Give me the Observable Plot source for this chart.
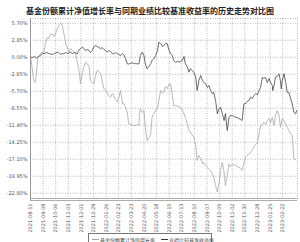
<!DOCTYPE html>
<html><head><meta charset="utf-8">
<script src="https://cdn.jsdelivr.net/npm/d3@7"></script>
<script src="https://cdn.jsdelivr.net/npm/@observablehq/plot@0.6"></script>
<style>
body{margin:0;background:#fff;}
#wrap{position:relative;width:300px;height:242px;overflow:hidden;font-family:"Noto Sans CJK SC","DejaVu Sans",sans-serif;background:#fff;}
#chart{position:absolute;left:0;top:0;}
#title{position:absolute;left:0;top:5px;width:300px;text-align:center;font-size:8px;font-weight:bold;color:#222;line-height:11px;white-space:nowrap;}
#legend{position:absolute;left:88px;top:233px;width:124px;height:14px;border:1px solid #777;box-sizing:border-box;font-size:5px;color:#444;display:flex;align-items:flex-start;padding-top:2px;padding-left:3px;white-space:nowrap;}
#legend .it{display:flex;align-items:center;margin-right:6px;}
#legend .sw{display:inline-block;width:7px;height:0;border-top:1px solid;margin-right:1px;}
</style></head>
<body>
<div id="wrap">
  <div id="chart"></div>
  <div id="title">基金份额累计净值增长率与同期业绩比较基准收益率的历史走势对比图</div>
  <div id="legend"></div>
</div>
<script>
const seriesNames = ["基金份额累计净值增长率", "业绩比较基准收益率"];
const tickLabels = ["2021-08-11","2021-09-08","2021-10-06","2021-11-03","2021-12-01","2021-12-29","2022-01-26","2022-02-23","2022-03-23","2022-04-20","2022-05-18","2022-06-15","2022-07-13","2022-08-10","2022-09-07","2022-10-05","2022-11-02","2022-11-30","2022-12-28","2023-01-25","2023-02-22"];
const yTicks = [5.70, 2.85, 0.00, -2.85, -5.70, -8.55, -11.40, -14.25, -17.10, -19.95, -22.80];

// days since first date
const fundDays = [0,3,7,10,13,16,20,24,30,33,37,40,44,49,53,58,62,67,70,73,78,81,85,89,93,100,104,108,111,115,119,122,126,130,133,137,141,144,148,152,156,159,163,167,170,174,178,182,185,189,193,196,200,202,204,207,211,215,218,222,226,230,233,237,241,242,244,248,252,255,259,263,267,270,274,278,282,285,289,293,296,300,304,307,311,315,318,322,328,333,339,344,348,352,357,363,367,370,374,378,382,385,389,393,396,400,404,407,411,415,419,422,426,430,433,437,441,444,448,452,455,459,463,467,470,474,478,481,485,489,493,496,500,504,507,511,515,518,522,526,530,533,537,541,544,548,552,555,559,563,567,570,574,578,581,583,585,589];
const fundValues = [0,-1.39,-3.91,-4.24,-3.07,-0.05,0.29,0.79,0.84,2.13,3.30,3.14,3.81,3.89,3.47,4.48,5.15,5.70,5.48,4.48,2.25,1.79,0.84,1.46,1.12,0.62,-0.84,-2.23,-4.46,-2.78,-1.56,-0.84,-1.06,-1.68,-3.91,-4.24,-4.46,-3.24,-2.23,-2.40,-2.78,-3.91,-5.30,-5.58,-5.87,-6.42,-6.71,-6.09,-6.42,-7.09,-7.54,-6.76,-5.58,-6.59,-7.81,-7.76,-8.38,-9.27,-11.17,-11.28,-11.37,-11.45,-11.45,-11.28,-11.45,-9.27,-8.65,-9.27,-8.94,-11.74,-13.97,-13.46,-12.84,-10.06,-9.44,-8.94,-8.65,-7.26,-5.58,-6.09,-5.87,-4.91,-5.30,-4.58,-4.46,-6.42,-8.10,-8.10,-8.27,-8.38,-9.10,-10.06,-11.12,-12.29,-12.79,-13.41,-14.80,-17.32,-16.48,-16.98,-17.87,-17.65,-18.16,-18.44,-18.66,-18.99,-19.50,-20.12,-21.51,-22.63,-21.01,-18.99,-17.60,-19.33,-21.51,-19.83,-17.87,-18.32,-17.99,-18.16,-17.99,-18.32,-18.44,-18.66,-18.99,-17.65,-16.76,-16.48,-16.19,-15.98,-15.47,-15.09,-14.64,-14.25,-13.13,-11.45,-11.28,-10.90,-11.28,-10.61,-10.33,-10.95,-10.11,-11.45,-9.77,-8.94,-9.77,-11.74,-10.28,-10.61,-11.28,-11.74,-12.29,-12.84,-13.13,-14.80,-17.03,-17.20];

const benchDays = [0,4,9,13,18,22,27,31,36,40,44,49,53,59,62,67,71,74,78,82,89,93,98,104,107,111,115,119,122,126,130,133,137,141,144,148,152,156,159,163,167,170,174,178,182,185,189,193,196,200,204,207,211,215,218,222,226,230,233,237,241,244,248,252,255,259,263,267,270,274,278,282,285,289,293,296,300,304,307,311,315,318,322,327,331,337,341,344,348,352,355,359,363,367,370,374,378,382,385,389,393,396,400,404,407,411,415,419,422,426,430,433,437,441,444,448,452,455,459,463,467,470,474,478,481,485,489,493,496,500,504,507,511,515,518,522,526,530,533,537,538,541,544,548,552,555,557,559,563,567,570,574,578,581,585,589,591];
const benchValues = [0,-0.05,0.12,-0.13,0.12,0.29,0.62,0.62,0.79,0.62,0.57,0.45,0.62,0.84,0.79,0.45,0.62,0.57,0.79,0.62,0.84,0.62,0.79,0.57,1.12,1.46,1.68,1.46,1.12,1.29,1.12,0.79,1.12,1.79,1.96,1.79,1.63,1.41,1.63,1.29,1.12,0.84,1.12,0.96,0.62,0.57,0.79,0.62,0.45,0.29,0.62,0.45,-0.22,-1.11,-1.14,-1.06,-0.89,-1.11,-1.06,-1.11,-1.11,0.29,0.84,0.29,-1.11,-1.94,-1.56,-1.11,-0.55,-0.22,0.29,1.12,2.51,2.30,1.79,1.96,2.30,2.25,1.29,0.57,0.29,-0.55,-0.84,-0.72,-0.80,-0.55,0.12,-1.11,-1.56,-2.51,-1.89,-2.23,-2.56,-3.35,-5.58,-3.91,-3.07,-3.91,-4.24,-4.46,-5.08,-4.74,-5.58,-6.14,-5.87,-7.26,-9.49,-8.60,-8.38,-9.44,-10.61,-9.44,-12.29,-10.11,-9.77,-9.77,-9.94,-10.06,-10.11,-10.28,-10.44,-10.61,-7.81,-7.76,-7.43,-7.26,-6.71,-6.92,-6.42,-6.14,-6.25,-5.75,-5.03,-3.35,-3.57,-3.40,-4.24,-3.57,-4.19,-4.74,-5.58,-4.74,-3.35,-3.24,-2.78,-3.91,-5.30,-3.91,-2.78,-4.24,-5.87,-5.92,-6.97,-7.76,-9.22,-9.49,-8.94];

const colors = ["#a3a3a3", "#3a3a3a"];

const parse = d3.utcParse("%Y-%m-%d");
const start = parse(tickLabels[0]);
const end = d3.utcDay.offset(start, 593);
const tickDates = tickLabels.map(parse);
const labelMap = new Map(tickDates.map((d, i) => [+d, tickLabels[i]]));
const yMin = -24.02, yMax = 6.49;

const fund = fundDays.map((d, i) => ({date: d3.utcDay.offset(start, d), v: fundValues[i]}));
const bench = benchDays.map((d, i) => ({date: d3.utcDay.offset(start, d), v: benchValues[i]}));

const dotted = {stroke: "#8a8a8a", strokeOpacity: 1, strokeWidth: 0.6, strokeDasharray: "1,1.5"};

const chart = Plot.plot({
  width: 300, height: 232,
  marginLeft: 30, marginRight: 3, marginTop: 18, marginBottom: 32,
  x: {type: "utc", domain: [start, end], label: null},
  y: {domain: [yMin, yMax], label: null},
  style: {fontSize: "5px", fontFamily: "'DejaVu Sans', sans-serif", color: "#555", background: "white"},
  marks: [
    Plot.gridY(yTicks, dotted),
    Plot.gridX(tickDates, dotted),
    Plot.ruleY([yMax], dotted),
    Plot.ruleX([end], dotted),
    Plot.axisY(yTicks, {tickFormat: d => d.toFixed(2) + "%", tickSize: 0, tickPadding: 3, fill: "#555", label: null}),
    Plot.axisX(tickDates, {tickFormat: d => labelMap.get(+d), tickRotate: -90, tickSize: 0, tickPadding: 3, fill: "#555", label: null}),
    Plot.line(fund, {x: "date", y: "v", stroke: colors[0], strokeWidth: 0.75}),
    Plot.line(bench, {x: "date", y: "v", stroke: colors[1], strokeWidth: 0.75}),
    Plot.ruleX([start], {stroke: "#888", strokeWidth: 0.8}),
    Plot.ruleY([yMin], {stroke: "#999", strokeWidth: 0.8}),
    Plot.ruleY([yMin], {stroke: "#999", strokeWidth: 0.8, dy: -2})
  ]
});
document.getElementById("chart").appendChild(chart);

const legend = document.getElementById("legend");
seriesNames.forEach((n, i) => {
  const it = document.createElement("span");
  it.className = "it";
  it.innerHTML = `<span class="sw" style="border-color:${colors[i]}"></span>${n}`;
  legend.appendChild(it);
});
</script>
</body></html>
